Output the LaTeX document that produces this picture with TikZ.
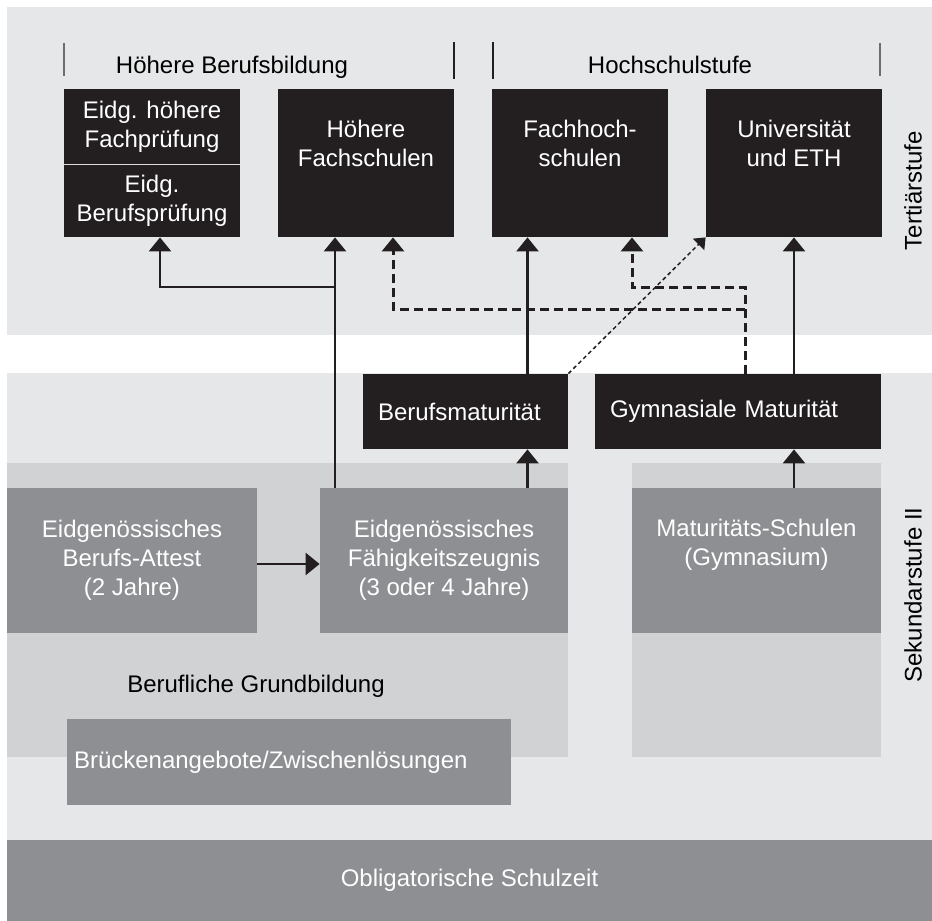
\documentclass[tikz,border=0pt]{standalone}
\usepackage{fontspec}
\setmainfont{Liberation Sans}
\usepackage{xcolor}
\usetikzlibrary{arrows.meta}
\tikzset{>={Triangle[length=7pt,width=11pt]}}
\definecolor{bandgray}{HTML}{E6E7E8}
\definecolor{areagray}{HTML}{D1D2D4}
\definecolor{boxgray}{HTML}{8E8F93}
\definecolor{boxblack}{HTML}{231F20}
\definecolor{tickgray}{HTML}{6D6E71}

\begin{document}
\begin{tikzpicture}[x=0.5pt, y=-0.5pt]
        % coordinates in pixels of the original, y runs downwards
        \tikzstyle{every node}=[font=\fontsize{12}{14.5}\selectfont, align=center, inner sep=0pt, node distance=107pt]
        \tikzstyle{blackbox}=[fill=boxblack, text=white, minimum width=88pt, minimum height=74pt]
        \tikzstyle{matbox}=[fill=boxblack, text=white, minimum height=37.5pt, inner xsep=7.5pt, align=left]
        \tikzstyle{graybox}=[fill=boxgray, text=white, minimum height=72.5pt]
        \tikzstyle{whitetext}=[text=white]
        \tikzstyle{conn}=[draw=boxblack, line width=1.3pt, ->]
        \tikzstyle{dashconn}=[draw=boxblack, line width=1.5pt, dash pattern=on 4.5pt off 2.5pt, ->]
        \tikzstyle{dotconn}=[draw=boxblack, line width=0.75pt, dash pattern=on 2pt off 1.5pt, -{Triangle[length=5pt,width=8pt]}]

        \useasboundingbox (0,0) rectangle (932,921);

        % bands
        \fill[bandgray] (7,7) rectangle (932,335);
        \fill[bandgray] (7,373) rectangle (932,840);
        \fill[areagray] (7,463) rectangle (568,757);
        \fill[areagray] (632,463) rectangle (881,757);

        % Tertiaerstufe
        \draw[tickgray, line width=1pt] (64,43) -- (64,76);
        \draw[boxblack, line width=1.1pt] (454,42) -- (454,79);
        \draw[boxblack, line width=1.1pt] (493,42) -- (493,79);
        \draw[tickgray, line width=1pt] (880,43) -- (880,76);
        \node (hbb) [anchor=base] at (232,73.5) {Höhere Berufsbildung};
        \node (hss) [anchor=base] at (670,73.5) {Hochschulstufe};

        \node (hfp) at (152,126.5) [blackbox, minimum height=37.5pt] {Eidg. höhere\\Fachprüfung};
        \node (bp) at (152,200.5) [blackbox, minimum height=36.5pt] {Eidg.\\Berufsprüfung};
        \draw[white!85!boxblack, line width=0.8pt] (hfp.south west) -- (hfp.south east);
        \node (hfs) at (366,163) [blackbox] {};
        \node (fh) [blackbox, right of=hfs] {};
        \node (uni) [blackbox, right of=fh] {};
        \node (hfs-t) [whitetext] at ([yshift=-27.5pt]hfs.north) {Höhere\\Fachschulen};
        \node (fh-t) [whitetext] at ([yshift=-27.5pt]fh.north) {Fachhoch-\\schulen};
        \node (uni-t) [whitetext] at ([yshift=-27.5pt]uni.north) {Universität\\und ETH};
        \node (tert) [rotate=90] at (913,191) {Tertiärstufe};

        % Sekundarstufe II
        \node (bm) at (465.5,411.5) [matbox, text width=87.5pt] {Berufsmaturität};
        \node (gm) at (738,411.5) [matbox, text width=128pt] {Gymnasiale Maturität};
        \node (attest) at (132,560.5) [graybox, minimum width=125pt] {Eidgenössisches\\Berufs-Attest\\(2 Jahre)};
        \node (efz) at (444,560.5) [graybox, minimum width=124pt] {Eidgenössisches\\Fähigkeitszeugnis\\(3 oder 4 Jahre)};
        \node (mat) at (756.5,560.5) [graybox, minimum width=124.5pt] {};
        \node (mat-t) [whitetext] at ([yshift=-28.5pt]mat.north) {Maturitäts-Schulen\\(Gymnasium)};
        \node (bg) at (256,686) {Berufliche Grundbildung};
        \node (brueck) at (289,762) [graybox, minimum height=43pt, text width=215pt, inner xsep=3.5pt, align=left] {Brückenangebote/Zwischenlösungen};
        \node (sek) [rotate=90] at (913,595) {Sekundarstufe II};

        \node (oblig) at (469.5,880.5) [fill=boxgray, text=white, minimum width=462.5pt, minimum height=40.5pt] {Obligatorische Schulzeit};

        % solid paths
        \coordinate (j1) at (335,287);
        \draw[conn] (efz.north -| j1) -- (hfs.south -| j1);
        \draw[conn] (j1) -| ([xshift=4pt]bp.south);
        \draw[conn] ([xshift=31pt]bm.north) -- ([xshift=31pt]bm.north |- fh.south);
        \draw[conn] ([xshift=31pt]bm.south |- efz.north) -- ([xshift=31pt]bm.south);
        \draw[conn] (gm.north -| uni.south) -- (uni.south);
        \draw[conn] (mat.north -| uni.south) -- (gm.south -| uni.south);
        \draw[conn] ([yshift=-1.75pt]attest.east) -- ([yshift=-1.75pt]efz.west);

        % dashed paths
        \coordinate (d1) at (745,287);
        \coordinate (d2) at (745,309);
        \draw[dashconn] (gm.north -| d1) -- (d1) -| ([xshift=26pt]fh.south);
        \draw[dashconn] (d2) -| ([xshift=13.5pt]hfs.south);
        \draw[dotconn] (bm.north east) -- (uni.south west);

\end{tikzpicture}
\end{document}
